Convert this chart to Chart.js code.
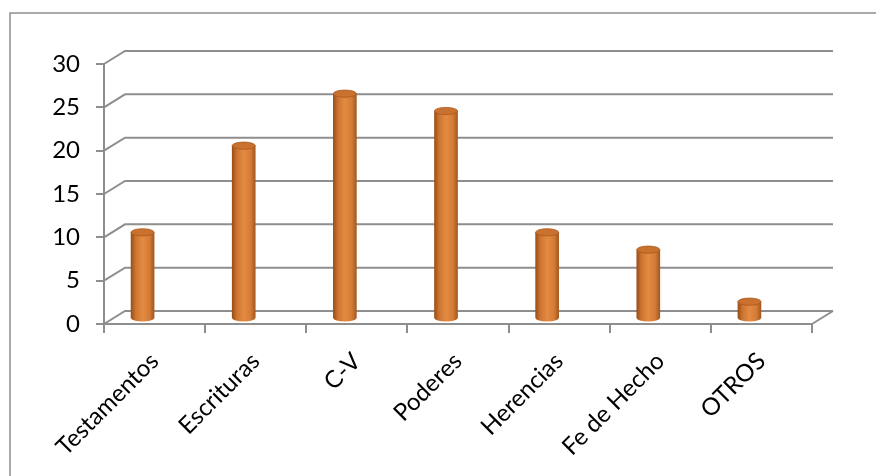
<!DOCTYPE html>
<html>
<head>
<meta charset="utf-8">
<script src="https://cdn.jsdelivr.net/npm/chart.js@4/dist/chart.umd.min.js"></script>
<style>
html, body { margin: 0; padding: 0; background: #fff; }
canvas { display: block; }
</style>
</head>
<body>
<canvas id="myChart" width="876" height="476"></canvas>
<script>
const kategori = ['Testamentos', 'Escrituras', 'C-V', 'Poderes', 'Herencias', 'Fe de Hecho', 'OTROS']
const jumlah = [10, 20, 26, 24, 10, 8, 2]
const yTicks = [0, 5, 10, 15, 20, 25, 30]

const abu = '#8e8e8e'
const dalamX = 21, dalamY = -13   // depth of the back wall
const geserX = -12, geserY = -5   // bars sit in the middle of the depth

// 3d look: frame, back wall grid, cylinder bars
const silinder = {
    id: 'silinder',
    beforeDraw(chart) {
        const c = chart.ctx
        c.save()
        c.strokeStyle = abu
        c.lineWidth = 1.5
        c.beginPath()
        c.moveTo(10, 476)
        c.lineTo(10, 13)
        c.lineTo(876, 13)
        c.stroke()
        c.restore()
    },
    beforeDatasetsDraw(chart) {
        const c = chart.ctx
        const a = chart.chartArea
        const y = chart.scales.y
        c.save()
        c.strokeStyle = abu
        c.lineWidth = 2
        yTicks.forEach(v => {
            const py = y.getPixelForValue(v)
            c.beginPath()
            c.moveTo(a.left, py)
            c.lineTo(a.left + dalamX, py + dalamY)
            c.lineTo(a.right + dalamX, py + dalamY)
            c.stroke()
        })
        c.beginPath()
        c.moveTo(a.right, a.bottom)
        c.lineTo(a.right + dalamX, a.bottom + dalamY)
        c.stroke()
        c.restore()

        c.save()
        c.translate(geserX, geserY)
        chart.getDatasetMeta(0).data.forEach(el => {
            el.options = Object.assign({}, el.options, { backgroundColor: warna(c, el) })
        })
    },
    afterDatasetsDraw(chart) {
        const c = chart.ctx
        chart.getDatasetMeta(0).data.forEach(el => {
            const rx = el.width / 2, ry = 3.6
            c.fillStyle = warna(c, el)
            c.beginPath()
            c.ellipse(el.x, el.base, rx, ry, 0, 0, Math.PI)
            c.fill()
            c.fillStyle = '#c9722f'
            c.strokeStyle = '#a9581e'
            c.lineWidth = 0.8
            c.beginPath()
            c.ellipse(el.x, el.y, rx, ry, 0, 0, Math.PI * 2)
            c.fill()
            c.stroke()
        })
        c.restore()
    }
}

function warna(c, el) {
    const g = c.createLinearGradient(el.x - el.width / 2, 0, el.x + el.width / 2, 0)
    g.addColorStop(0, '#9a4f19')
    g.addColorStop(0.2, '#cd7430')
    g.addColorStop(0.5, '#e38b42')
    g.addColorStop(0.8, '#d47c37')
    g.addColorStop(1, '#a35820')
    return g
}

const huruf = { family: 'Lato', size: 24 }

var ctx = document.getElementById('myChart').getContext('2d');
var chart = new Chart(ctx, {
    type: 'bar',
    data: {
        labels: kategori,
        datasets: [{
            data: jumlah,
            backgroundColor: '#d9823b',
            borderWidth: 0,
            barThickness: 23
        }]
    },
    options: {
        responsive: false,
        animation: false,
        layout: { padding: { top: 64, right: 64, left: 0, bottom: 0 } },
        plugins: { legend: { display: false }, tooltip: { enabled: false } },
        scales: {
            x: {
                grid: { offset: true, drawOnChartArea: false, drawTicks: true, tickLength: 9, color: abu, lineWidth: 2 },
                border: { display: true, color: abu, width: 2 },
                ticks: { minRotation: 45, maxRotation: 45, color: '#000', font: huruf, padding: 14 },
                afterFit(s) { s.height = 152 }
            },
            y: {
                min: 0,
                max: 30,
                afterBuildTicks(s) { s.ticks = yTicks.map(v => ({ value: v })) },
                grid: { drawOnChartArea: false, drawTicks: true, tickLength: 8, color: abu, lineWidth: 2 },
                border: { display: true, color: abu, width: 2 },
                ticks: { color: '#000', font: huruf, padding: 16 },
                afterFit(s) { s.width = 104 }
            }
        }
    },
    plugins: [silinder]
});
</script>
</body>
</html>
